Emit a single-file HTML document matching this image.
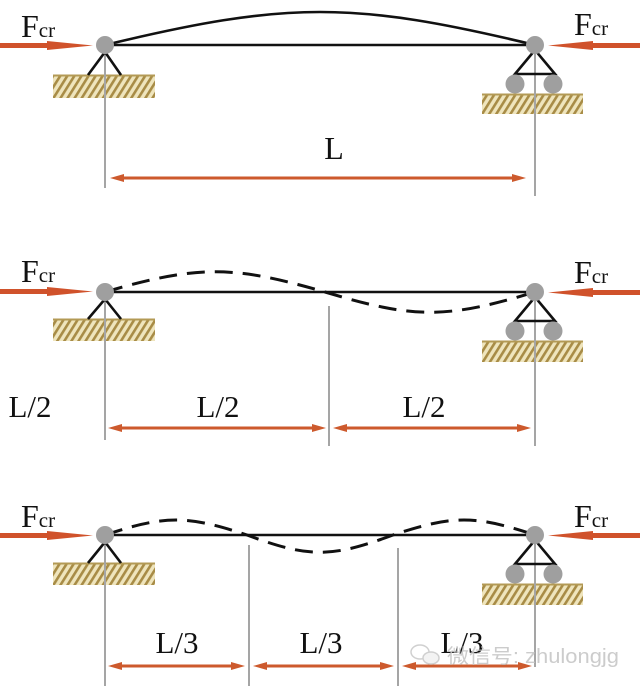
<!DOCTYPE html>
<html><head><meta charset="utf-8"><style>
html,body{margin:0;padding:0;background:#fff;}
svg{display:block;}
</style></head><body>
<svg width="640" height="688" viewBox="0 0 640 688" xmlns="http://www.w3.org/2000/svg">
<defs>
<pattern id="h" patternUnits="userSpaceOnUse" width="6" height="6" patternTransform="rotate(32)">
<rect width="6" height="6" fill="#efe5bd"/>
<rect width="2.6" height="6" fill="#a88c46"/>
</pattern>
</defs>
<rect width="640" height="688" fill="#fff"/>

<!-- ===== Diagram 1 ===== -->
<!-- hatch -->
<rect x="53" y="75" width="102" height="23" fill="url(#h)"/>
<line x1="53" y1="75.5" x2="155" y2="75.5" stroke="#b39a55" stroke-width="2"/>
<rect x="482" y="94" width="101" height="20" fill="url(#h)"/>
<line x1="482" y1="94.5" x2="583" y2="94.5" stroke="#b39a55" stroke-width="2"/>
<!-- verticals -->
<line x1="105" y1="45" x2="105" y2="188" stroke="#a5a5a5" stroke-width="2"/>
<line x1="535" y1="45" x2="535" y2="196" stroke="#a5a5a5" stroke-width="2"/>
<!-- beam + arc -->
<line x1="105" y1="45" x2="535" y2="45" stroke="#111" stroke-width="2.4"/>
<path d="M105,45 C287,1 353,1 535,45" fill="none" stroke="#111" stroke-width="2.6"/>
<!-- left pin -->
<polyline points="88,75 105,52 121,75" fill="none" stroke="#111" stroke-width="2.6"/>
<circle cx="105" cy="45" r="9" fill="#9f9f9f"/>
<!-- right roller -->
<polygon points="535,50 515,74 555,74" fill="none" stroke="#111" stroke-width="2.6"/>
<circle cx="535" cy="45" r="9" fill="#9f9f9f"/>
<circle cx="515" cy="84" r="9.5" fill="#9f9f9f"/>
<circle cx="553" cy="84" r="9.5" fill="#9f9f9f"/>
<!-- force arrows -->
<rect x="0" y="43" width="50" height="5" fill="#d0522b"/>
<polygon points="47,41 93,45.5 47,50" fill="#d0522b"/>
<rect x="590" y="43" width="50" height="5" fill="#d0522b"/>
<polygon points="593,41 548,45.5 593,50" fill="#d0522b"/>
<!-- Fcr labels -->
<text x="21" y="37" font-family="Liberation Serif, serif" font-size="32" fill="#111">F<tspan font-size="21" dx="0">cr</tspan></text>
<text x="574" y="35" font-family="Liberation Serif, serif" font-size="32" fill="#111">F<tspan font-size="21">cr</tspan></text>
<!-- dimension -->
<line x1="118" y1="178" x2="518" y2="178" stroke="#cd5a2d" stroke-width="3"/>
<polygon points="110,178 124,174 124,182" fill="#cd5a2d"/>
<polygon points="526,178 512,174 512,182" fill="#cd5a2d"/>
<text x="334" y="159" text-anchor="middle" font-family="Liberation Serif, serif" font-size="32" fill="#111">L</text>

<!-- ===== Diagram 2 ===== -->
<rect x="53" y="319" width="102" height="22" fill="url(#h)"/>
<line x1="53" y1="319.5" x2="155" y2="319.5" stroke="#b39a55" stroke-width="2"/>
<rect x="482" y="341" width="101" height="21" fill="url(#h)"/>
<line x1="482" y1="341.5" x2="583" y2="341.5" stroke="#b39a55" stroke-width="2"/>
<line x1="105" y1="292" x2="105" y2="440" stroke="#a5a5a5" stroke-width="2"/>
<line x1="329" y1="306" x2="329" y2="446" stroke="#a5a5a5" stroke-width="2"/>
<line x1="535" y1="292" x2="535" y2="446" stroke="#a5a5a5" stroke-width="2"/>
<line x1="105" y1="292" x2="535" y2="292" stroke="#111" stroke-width="2.4"/>
<path d="M105,292 C198,265 232,265 325,292 C414,319 446,319 535,292" fill="none" stroke="#111" stroke-width="3" stroke-dasharray="18 10"/>
<polyline points="88,319 105,299 121,319" fill="none" stroke="#111" stroke-width="2.6"/>
<circle cx="105" cy="292" r="9" fill="#9f9f9f"/>
<polygon points="535,297 515,321 555,321" fill="none" stroke="#111" stroke-width="2.6"/>
<circle cx="535" cy="292" r="9" fill="#9f9f9f"/>
<circle cx="515" cy="331" r="9.5" fill="#9f9f9f"/>
<circle cx="553" cy="331" r="9.5" fill="#9f9f9f"/>
<rect x="0" y="289" width="50" height="5" fill="#d0522b"/>
<polygon points="47,287 93,291.5 47,296" fill="#d0522b"/>
<rect x="590" y="290" width="50" height="5" fill="#d0522b"/>
<polygon points="593,288 548,292.5 593,297" fill="#d0522b"/>
<text x="21" y="282" font-family="Liberation Serif, serif" font-size="32" fill="#111">F<tspan font-size="21">cr</tspan></text>
<text x="574" y="283" font-family="Liberation Serif, serif" font-size="32" fill="#111">F<tspan font-size="21">cr</tspan></text>
<line x1="116" y1="428" x2="318" y2="428" stroke="#cd5a2d" stroke-width="3"/>
<polygon points="108,428 122,424 122,432" fill="#cd5a2d"/>
<polygon points="326,428 312,424 312,432" fill="#cd5a2d"/>
<line x1="341" y1="428" x2="523" y2="428" stroke="#cd5a2d" stroke-width="3"/>
<polygon points="333,428 347,424 347,432" fill="#cd5a2d"/>
<polygon points="531,428 517,424 517,432" fill="#cd5a2d"/>
<text x="30" y="417" text-anchor="middle" font-family="Liberation Serif, serif" font-size="31" fill="#111">L/2</text>
<text x="218" y="417" text-anchor="middle" font-family="Liberation Serif, serif" font-size="31" fill="#111">L/2</text>
<text x="424" y="417" text-anchor="middle" font-family="Liberation Serif, serif" font-size="31" fill="#111">L/2</text>

<!-- ===== Diagram 3 ===== -->
<rect x="53" y="563" width="102" height="22" fill="url(#h)"/>
<line x1="53" y1="563.5" x2="155" y2="563.5" stroke="#b39a55" stroke-width="2"/>
<rect x="482" y="584" width="101" height="21" fill="url(#h)"/>
<line x1="482" y1="584.5" x2="583" y2="584.5" stroke="#b39a55" stroke-width="2"/>
<line x1="105" y1="535" x2="105" y2="686" stroke="#a5a5a5" stroke-width="2"/>
<line x1="249" y1="545" x2="249" y2="686" stroke="#a5a5a5" stroke-width="2"/>
<line x1="398" y1="548" x2="398" y2="686" stroke="#a5a5a5" stroke-width="2"/>
<line x1="535" y1="535" x2="535" y2="667" stroke="#a5a5a5" stroke-width="2"/>
<line x1="105" y1="535" x2="535" y2="535" stroke="#111" stroke-width="2.4"/>
<path d="M105,535 C165,515 187,515 247,535 C309,558 331,558 393,535 C453,515 475,515 535,535" fill="none" stroke="#111" stroke-width="3" stroke-dasharray="18 10"/>
<polyline points="88,563 105,542 121,563" fill="none" stroke="#111" stroke-width="2.6"/>
<circle cx="105" cy="535" r="9" fill="#9f9f9f"/>
<polygon points="535,540 515,564 555,564" fill="none" stroke="#111" stroke-width="2.6"/>
<circle cx="535" cy="535" r="9" fill="#9f9f9f"/>
<circle cx="515" cy="574" r="9.5" fill="#9f9f9f"/>
<circle cx="553" cy="574" r="9.5" fill="#9f9f9f"/>
<rect x="0" y="533" width="50" height="5" fill="#d0522b"/>
<polygon points="47,531 93,535.5 47,540" fill="#d0522b"/>
<rect x="590" y="533" width="50" height="5" fill="#d0522b"/>
<polygon points="593,531 548,535.5 593,540" fill="#d0522b"/>
<text x="21" y="527" font-family="Liberation Serif, serif" font-size="32" fill="#111">F<tspan font-size="21">cr</tspan></text>
<text x="574" y="527" font-family="Liberation Serif, serif" font-size="32" fill="#111">F<tspan font-size="21">cr</tspan></text>
<line x1="116" y1="666" x2="237" y2="666" stroke="#cd5a2d" stroke-width="3"/>
<polygon points="108,666 122,662 122,670" fill="#cd5a2d"/>
<polygon points="245,666 231,662 231,670" fill="#cd5a2d"/>
<line x1="261" y1="666" x2="386" y2="666" stroke="#cd5a2d" stroke-width="3"/>
<polygon points="253,666 267,662 267,670" fill="#cd5a2d"/>
<polygon points="394,666 380,662 380,670" fill="#cd5a2d"/>
<line x1="410" y1="666" x2="524" y2="666" stroke="#cd5a2d" stroke-width="3"/>
<polygon points="402,666 416,662 416,670" fill="#cd5a2d"/>
<polygon points="532,666 518,662 518,670" fill="#cd5a2d"/>
<text x="177" y="653" text-anchor="middle" font-family="Liberation Serif, serif" font-size="31" fill="#111">L/3</text>
<text x="321" y="653" text-anchor="middle" font-family="Liberation Serif, serif" font-size="31" fill="#111">L/3</text>
<text x="462" y="653" text-anchor="middle" font-family="Liberation Serif, serif" font-size="31" fill="#111">L/3</text>

<!-- watermark -->
<g opacity="0.85">
<ellipse cx="420" cy="652" rx="9" ry="7" fill="none" stroke="#c8c8c8" stroke-width="1.5"/>
<ellipse cx="431" cy="658" rx="8" ry="6" fill="#f2f2f2" stroke="#c8c8c8" stroke-width="1.5"/>
<text x="447" y="663" font-family="Liberation Sans, 'Noto Sans CJK SC', sans-serif" font-size="20" fill="#c4c4c4" textLength="172" lengthAdjust="spacingAndGlyphs">微信号: zhulongjg</text>
</g>
</svg>
</body></html>
